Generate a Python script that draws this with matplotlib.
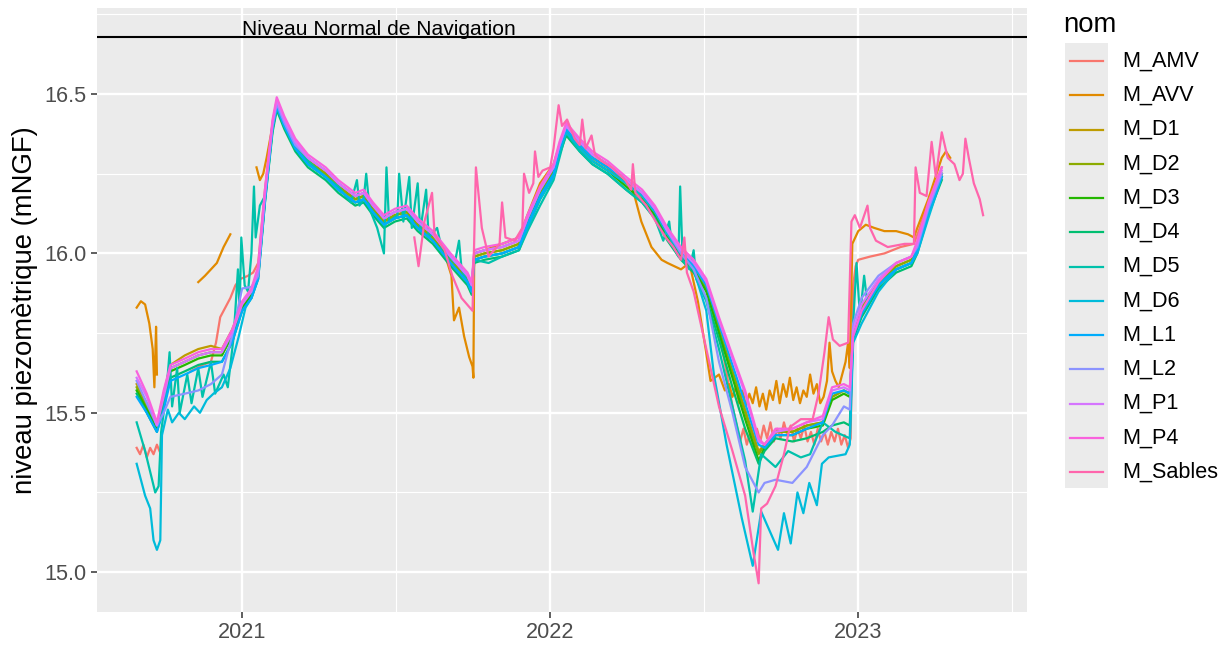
import matplotlib
matplotlib.use("Agg")
import matplotlib.pyplot as plt
import matplotlib.dates as mdates
from matplotlib.lines import Line2D
from matplotlib.patches import Rectangle
import numpy as np
import pandas as pd

plt.rcParams['font.family'] = ['Liberation Sans', 'DejaVu Sans']

# ---------------- data ----------------
names = ["M_AMV", "M_AVV", "M_D1", "M_D2", "M_D3", "M_D4", "M_D5", "M_D6",
         "M_L1", "M_L2", "M_P1", "M_P4", "M_Sables"]
colors = ["#F8766D", "#E18A00", "#BE9C00", "#8CAB00", "#24B700", "#00BE70", "#00C1AB",
          "#00BBDA", "#00ACFC", "#8B93FF", "#D575FE", "#F962DD", "#FF65AC"]

grid_dates = [
    "2020-08-29", "2020-09-10", "2020-09-22", "2020-09-30", "2020-10-08", "2020-10-25", "2020-11-10", "2020-11-25", "2020-12-08", "2020-12-20",
    "2021-01-01", "2021-01-12", "2021-01-20", "2021-01-28", "2021-02-06", "2021-02-11", "2021-02-20", "2021-03-05", "2021-03-20", "2021-04-10",
    "2021-04-25", "2021-05-15", "2021-05-25", "2021-06-05", "2021-06-18", "2021-07-01", "2021-07-15", "2021-07-28", "2021-08-15", "2021-09-05",
    "2021-09-25", "2021-09-30", "2021-10-03", "2021-10-15", "2021-11-05", "2021-11-25", "2021-12-05", "2021-12-20", "2022-01-05", "2022-01-12",
    "2022-01-20", "2022-02-05", "2022-02-20", "2022-03-10", "2022-04-01", "2022-04-20", "2022-05-05", "2022-05-20", "2022-06-05", "2022-06-20",
    "2022-07-05", "2022-07-20", "2022-08-05", "2022-08-20", "2022-09-05", "2022-09-12", "2022-09-25", "2022-10-15", "2022-11-01", "2022-11-20",
    "2022-12-01", "2022-12-15", "2022-12-22", "2022-12-26", "2023-01-05", "2023-01-25", "2023-02-15", "2023-03-05", "2023-03-12", "2023-03-25",
    "2023-04-10"]

p4_vals = [
    15.63, 15.56, 15.47, 15.57, 15.65, 15.67, 15.69, 15.70, 15.70, 15.76,
    15.85, 15.89, 15.96, 16.20, 16.42, 16.49, 16.43, 16.36, 16.31, 16.27,
    16.23, 16.19, 16.20, 16.16, 16.12, 16.14, 16.15, 16.11, 16.07, 16.00,
    15.94, 15.91, 16.01, 16.02, 16.03, 16.05, 16.12, 16.21, 16.28, 16.35,
    16.41, 16.36, 16.32, 16.29, 16.24, 16.20, 16.15, 16.08, 16.02, 15.98,
    15.92, 15.80, 15.68, 15.57, 15.42, 15.40, 15.45, 15.45, 15.47, 15.49,
    15.58, 15.59, 15.58, 15.74, 15.82, 15.91, 15.97, 15.99, 16.04, 16.16,
    16.27]
p1_vals = [
    15.61, 15.55, 15.46, 15.55, 15.64, 15.66, 15.68, 15.69, 15.69, 15.75,
    15.84, 15.88, 15.95, 16.19, 16.41, 16.48, 16.42, 16.35, 16.30, 16.26,
    16.22, 16.18, 16.19, 16.15, 16.11, 16.13, 16.14, 16.10, 16.06, 15.99,
    15.93, 15.90, 16.00, 16.01, 16.02, 16.04, 16.11, 16.20, 16.27, 16.34,
    16.40, 16.35, 16.31, 16.28, 16.23, 16.19, 16.14, 16.07, 16.01, 15.97,
    15.91, 15.79, 15.67, 15.56, 15.41, 15.40, 15.44, 15.45, 15.47, 15.48,
    15.57, 15.58, 15.57, 15.76, 15.84, 15.92, 15.97, 15.99, 16.03, 16.15,
    16.26]
d1_vals = [
    15.59, 15.53, 15.46, 15.56, 15.65, 15.68, 15.70, 15.71, 15.70, 15.76,
    15.84, 15.88, 15.94, 16.18, 16.40, 16.47, 16.41, 16.34, 16.29, 16.25,
    16.21, 16.17, 16.18, 16.14, 16.10, 16.12, 16.13, 16.09, 16.05, 15.98,
    15.92, 15.89, 15.99, 16.00, 16.01, 16.03, 16.10, 16.19, 16.26, 16.33,
    16.39, 16.34, 16.30, 16.27, 16.22, 16.18, 16.13, 16.06, 16.00, 15.96,
    15.89, 15.76, 15.63, 15.51, 15.38, 15.40, 15.44, 15.44, 15.46, 15.47,
    15.55, 15.57, 15.56, 15.75, 15.83, 15.91, 15.96, 15.98, 16.02, 16.14,
    16.25]
d2_vals = [
    15.58, 15.52, 15.45, 15.55, 15.64, 15.66, 15.68, 15.69, 15.69, 15.75,
    15.83, 15.87, 15.93, 16.17, 16.40, 16.47, 16.41, 16.34, 16.29, 16.25,
    16.21, 16.17, 16.18, 16.14, 16.10, 16.12, 16.13, 16.09, 16.05, 15.98,
    15.92, 15.89, 15.99, 16.00, 16.01, 16.03, 16.10, 16.19, 16.26, 16.33,
    16.39, 16.34, 16.30, 16.27, 16.22, 16.18, 16.13, 16.06, 16.00, 15.96,
    15.89, 15.76, 15.63, 15.50, 15.37, 15.40, 15.44, 15.44, 15.46, 15.47,
    15.55, 15.57, 15.56, 15.75, 15.83, 15.91, 15.96, 15.98, 16.02, 16.14,
    16.25]
d3_vals = [
    15.57, 15.51, 15.45, 15.54, 15.63, 15.65, 15.67, 15.68, 15.68, 15.74,
    15.83, 15.87, 15.93, 16.17, 16.39, 16.46, 16.40, 16.33, 16.28, 16.24,
    16.20, 16.16, 16.17, 16.13, 16.09, 16.11, 16.12, 16.08, 16.04, 15.97,
    15.91, 15.88, 15.98, 15.99, 16.00, 16.02, 16.09, 16.18, 16.25, 16.32,
    16.38, 16.33, 16.29, 16.26, 16.21, 16.17, 16.12, 16.05, 15.99, 15.95,
    15.88, 15.75, 15.61, 15.48, 15.35, 15.39, 15.43, 15.43, 15.45, 15.46,
    15.54, 15.56, 15.55, 15.74, 15.82, 15.90, 15.95, 15.97, 16.01, 16.13,
    16.24]
d4_vals = [
    15.56, 15.50, 15.44, 15.52, 15.61, 15.63, 15.65, 15.66, 15.66, 15.72,
    15.82, 15.86, 15.92, 16.16, 16.38, 16.45, 16.39, 16.32, 16.27, 16.23,
    16.19, 16.15, 16.16, 16.12, 16.08, 16.10, 16.11, 16.07, 16.03, 15.96,
    15.90, 15.87, 15.97, 15.98, 15.99, 16.01, 16.08, 16.17, 16.24, 16.31,
    16.37, 16.32, 16.28, 16.25, 16.20, 16.16, 16.11, 16.04, 15.98, 15.94,
    15.86, 15.73, 15.58, 15.45, 15.34, 15.38, 15.42, 15.41, 15.42, 15.44,
    15.46, 15.47, 15.46, 15.73, 15.80, 15.89, 15.94, 15.96, 16.00, 16.12,
    16.23]
l1_vals = [
    15.55, 15.50, 15.44, 15.51, 15.60, 15.62, 15.64, 15.65, 15.66, 15.72,
    15.82, 15.86, 15.92, 16.16, 16.39, 16.46, 16.40, 16.33, 16.28, 16.24,
    16.20, 16.16, 16.17, 16.13, 16.09, 16.11, 16.12, 16.08, 16.04, 15.97,
    15.91, 15.88, 15.98, 15.99, 16.00, 16.02, 16.09, 16.18, 16.25, 16.33,
    16.39, 16.34, 16.30, 16.27, 16.23, 16.19, 16.14, 16.07, 16.01, 15.96,
    15.90, 15.78, 15.65, 15.53, 15.40, 15.39, 15.43, 15.43, 15.45, 15.47,
    15.56, 15.57, 15.56, 15.74, 15.81, 15.90, 15.95, 15.97, 16.01, 16.13,
    16.24]
l2_vals = [
    15.60, 15.53, 15.46, 15.50, 15.55, 15.56, 15.57, 15.59, 15.62, 15.74,
    15.89, 15.895, 15.93, 16.18, 16.40, 16.47, 16.41, 16.34, 16.30, 16.26,
    16.22, 16.18, 16.19, 16.15, 16.11, 16.13, 16.14, 16.10, 16.06, 15.99,
    15.93, 15.90, 16.00, 16.01, 16.02, 16.04, 16.11, 16.20, 16.27, 16.34,
    16.40, 16.35, 16.31, 16.28, 16.23, 16.19, 16.14, 16.07, 16.00, 15.95,
    15.86, 15.66, 15.50, 15.33, 15.25, 15.28, 15.29, 15.28, 15.33, 15.43,
    15.46, 15.52, 15.51, 15.78, 15.86, 15.93, 15.97, 15.99, 16.02, 16.14,
    16.25]

d5_dates = [
    "2020-08-29", "2020-09-08", "2020-09-20", "2020-09-24", "2020-09-27", "2020-10-03", "2020-10-07", "2020-10-10", "2020-10-16", "2020-10-19",
    "2020-10-28", "2020-11-02", "2020-11-10", "2020-11-15", "2020-11-25", "2020-11-30", "2020-12-10", "2020-12-15", "2020-12-22", "2020-12-27",
    "2020-12-29", "2020-12-31", "2021-01-04", "2021-01-08", "2021-01-12", "2021-01-15", "2021-01-17", "2021-01-22", "2021-01-28", "2021-02-06",
    "2021-02-11", "2021-02-20", "2021-03-05", "2021-03-20", "2021-04-10", "2021-04-25", "2021-05-10", "2021-05-17", "2021-05-20", "2021-05-25",
    "2021-05-28", "2021-06-01", "2021-06-10", "2021-06-18", "2021-06-21", "2021-06-24", "2021-06-29", "2021-07-04", "2021-07-06", "2021-07-11",
    "2021-07-18", "2021-07-21", "2021-07-28", "2021-07-31", "2021-08-07", "2021-08-10", "2021-08-20", "2021-08-25", "2021-09-10", "2021-09-15",
    "2021-09-18", "2021-09-30", "2021-10-03", "2021-10-20", "2021-11-05", "2021-11-25", "2021-12-05", "2021-12-20", "2022-01-05", "2022-01-20",
    "2022-02-05", "2022-02-20", "2022-03-10", "2022-04-01", "2022-04-20", "2022-05-05", "2022-05-15", "2022-05-22", "2022-05-25", "2022-06-02",
    "2022-06-04", "2022-06-07", "2022-06-15", "2022-06-20", "2022-06-23", "2022-07-05", "2022-07-20", "2022-08-05", "2022-08-20", "2022-08-29",
    "2022-09-08", "2022-09-25", "2022-10-10", "2022-10-25", "2022-11-05", "2022-11-20", "2022-12-05", "2022-12-22", "2022-12-26", "2022-12-30",
    "2023-01-03", "2023-01-08", "2023-01-12", "2023-01-20", "2023-02-01", "2023-02-15", "2023-03-05", "2023-03-12", "2023-03-25", "2023-04-10"]
d5_vals = [
    15.47, 15.38, 15.25, 15.27, 15.44, 15.56, 15.69, 15.52, 15.64, 15.50,
    15.62, 15.53, 15.64, 15.55, 15.66, 15.56, 15.62, 15.58, 15.74, 15.95,
    15.82, 16.05, 15.90, 15.88, 16.00, 16.21, 16.05, 16.15, 16.18, 16.40,
    16.46, 16.40, 16.33, 16.29, 16.24, 16.21, 16.16, 16.23, 16.15, 16.17,
    16.25, 16.14, 16.08, 16.00, 16.27, 16.10, 16.11, 16.12, 16.25, 16.10,
    16.24, 16.08, 16.22, 16.07, 16.20, 16.05, 16.08, 16.02, 15.97, 16.04,
    15.95, 15.88, 15.98, 15.97, 15.99, 16.01, 16.07, 16.15, 16.23, 16.38,
    16.32, 16.28, 16.25, 16.20, 16.16, 16.11, 16.04, 16.10, 16.03, 15.99,
    16.21, 15.98, 15.95, 16.01, 15.92, 15.85, 15.70, 15.52, 15.35, 15.19,
    15.37, 15.33, 15.38, 15.36, 15.37, 15.47, 15.44, 15.42, 15.78, 15.97,
    15.80, 15.93, 15.84, 15.88, 15.92, 15.95, 15.97, 16.01, 16.12, 16.25]

d6_dates = [
    "2020-08-29", "2020-09-08", "2020-09-14", "2020-09-18", "2020-09-22", "2020-09-26", "2020-09-28", "2020-10-05", "2020-10-10", "2020-10-18",
    "2020-10-25", "2020-11-05", "2020-11-12", "2020-11-20", "2020-11-28", "2020-12-08", "2020-12-18", "2020-12-28", "2021-01-05", "2021-01-12",
    "2021-01-20", "2021-01-28", "2021-02-06", "2021-02-11", "2021-02-20", "2021-03-05", "2021-03-20", "2021-04-10", "2021-04-25", "2021-05-15",
    "2021-05-25", "2021-06-05", "2021-06-18", "2021-07-01", "2021-07-15", "2021-07-28", "2021-08-15", "2021-09-05", "2021-09-25", "2021-09-30",
    "2021-10-03", "2021-10-15", "2021-11-05", "2021-11-25", "2021-12-05", "2021-12-20", "2022-01-05", "2022-01-12", "2022-01-20", "2022-02-05",
    "2022-02-20", "2022-03-10", "2022-04-01", "2022-04-20", "2022-05-05", "2022-05-20", "2022-06-05", "2022-06-20", "2022-07-05", "2022-07-14",
    "2022-07-29", "2022-08-16", "2022-08-29", "2022-09-08", "2022-09-28", "2022-10-05", "2022-10-13", "2022-10-21", "2022-10-28", "2022-11-04",
    "2022-11-13", "2022-11-19", "2022-11-27", "2022-12-17", "2022-12-22", "2022-12-26", "2023-01-05", "2023-01-25", "2023-02-15", "2023-03-05",
    "2023-03-12", "2023-03-25", "2023-04-10"]
d6_vals = [
    15.34, 15.24, 15.20, 15.10, 15.07, 15.10, 15.43, 15.51, 15.47, 15.50,
    15.48, 15.52, 15.50, 15.54, 15.56, 15.58, 15.64, 15.74, 15.83, 15.86,
    15.93, 16.18, 16.40, 16.47, 16.40, 16.33, 16.28, 16.24, 16.20, 16.16,
    16.17, 16.13, 16.09, 16.11, 16.12, 16.08, 16.04, 15.97, 15.91, 15.88,
    15.98, 15.99, 16.00, 16.02, 16.08, 16.17, 16.24, 16.32, 16.38, 16.33,
    16.29, 16.26, 16.22, 16.18, 16.13, 16.06, 16.00, 15.95, 15.82, 15.62,
    15.40, 15.17, 15.02, 15.19, 15.07, 15.185, 15.09, 15.25, 15.185, 15.28,
    15.21, 15.34, 15.36, 15.37, 15.40, 15.72, 15.78, 15.88, 15.95, 15.97,
    16.00, 16.11, 16.24]

sables_dates = [
    "2021-07-24", "2021-07-29", "2021-08-05", "2021-08-14", "2021-08-17", "2021-08-29", "2021-09-07", "2021-09-18", "2021-10-01", "2021-10-05",
    "2021-10-12", "2021-10-20", "2021-11-02", "2021-11-05", "2021-11-09", "2021-11-20", "2021-11-29", "2021-12-01", "2021-12-07", "2021-12-12",
    "2021-12-14", "2021-12-18", "2021-12-23", "2022-01-01", "2022-01-05", "2022-01-11", "2022-01-15", "2022-01-21", "2022-01-30", "2022-02-05",
    "2022-02-08", "2022-02-12", "2022-02-19", "2022-02-23", "2022-03-03", "2022-03-15", "2022-03-31", "2022-04-07", "2022-04-09", "2022-04-12",
    "2022-04-25", "2022-05-06", "2022-05-18", "2022-05-27", "2022-06-05", "2022-06-09", "2022-06-12", "2022-06-20", "2022-07-05", "2022-07-20",
    "2022-08-05", "2022-08-20", "2022-08-30", "2022-09-05", "2022-09-08", "2022-09-15", "2022-09-25", "2022-10-05", "2022-10-12", "2022-10-25",
    "2022-11-08", "2022-11-15", "2022-11-22", "2022-11-27", "2022-12-02", "2022-12-10", "2022-12-20", "2022-12-24", "2022-12-28", "2023-01-03",
    "2023-01-12", "2023-01-15", "2023-01-22", "2023-02-05", "2023-02-25", "2023-03-08", "2023-03-10", "2023-03-15", "2023-03-23", "2023-03-29",
    "2023-04-03", "2023-04-10", "2023-04-17", "2023-04-25", "2023-05-01", "2023-05-05", "2023-05-08", "2023-05-12", "2023-05-18", "2023-05-25",
    "2023-05-29"]
sables_vals = [
    16.05, 15.96, 16.10, 16.19, 16.06, 16.01, 15.93, 15.86, 15.82, 16.27,
    16.08, 15.99, 16.03, 16.16, 16.05, 16.04, 16.08, 16.25, 16.19, 16.22,
    16.32, 16.24, 16.26, 16.27, 16.33, 16.465, 16.40, 16.42, 16.36, 16.34,
    16.42, 16.33, 16.37, 16.31, 16.29, 16.27, 16.23, 16.20, 16.28, 16.19,
    16.15, 16.10, 16.05, 16.02, 15.98, 16.05, 15.94, 15.88, 15.70, 15.52,
    15.38, 15.24, 15.06, 14.965, 15.20, 15.215, 15.27, 15.37, 15.455, 15.48,
    15.48, 15.56, 15.69, 15.80, 15.73, 15.71, 15.72, 16.10, 16.12, 16.08,
    16.15, 16.08, 16.04, 16.02, 16.03, 16.03, 16.27, 16.19, 16.18, 16.35,
    16.24, 16.38, 16.30, 16.28, 16.23, 16.25, 16.36, 16.30, 16.22, 16.17,
    16.12]

avv_dates = [
    "2020-08-29", "2020-09-03", "2020-09-08", "2020-09-13", "2020-09-17", "2020-09-19", "2020-09-21", "2020-09-22", "2020-10-01", "2020-11-10",
    "2020-11-18", "2020-11-25", "2020-12-02", "2020-12-10", "2020-12-18", "2021-01-01", "2021-01-18", "2021-01-22", "2021-01-26", "2021-01-30",
    "2021-02-06", "2021-02-11", "2021-02-20", "2021-03-05", "2021-03-20", "2021-04-10", "2021-04-25", "2021-05-15", "2021-05-25", "2021-06-05",
    "2021-06-18", "2021-07-01", "2021-07-15", "2021-07-28", "2021-08-15", "2021-08-30", "2021-09-06", "2021-09-09", "2021-09-15", "2021-09-21",
    "2021-09-27", "2021-10-01", "2021-10-02", "2021-10-03", "2021-10-15", "2021-11-05", "2021-11-25", "2021-12-05", "2021-12-20", "2022-01-05",
    "2022-01-12", "2022-01-20", "2022-02-05", "2022-02-20", "2022-03-10", "2022-04-01", "2022-04-11", "2022-04-19", "2022-05-01", "2022-05-13",
    "2022-05-20", "2022-06-05", "2022-06-15", "2022-06-25", "2022-07-03", "2022-07-10", "2022-07-20", "2022-07-27", "2022-08-01", "2022-08-05",
    "2022-08-09", "2022-08-13", "2022-08-17", "2022-08-21", "2022-08-25", "2022-08-29", "2022-09-02", "2022-09-06", "2022-09-10", "2022-09-14",
    "2022-09-18", "2022-09-22", "2022-09-26", "2022-09-30", "2022-10-04", "2022-10-08", "2022-10-12", "2022-10-16", "2022-10-20", "2022-10-24",
    "2022-10-28", "2022-11-01", "2022-11-05", "2022-11-09", "2022-11-13", "2022-11-17", "2022-11-21", "2022-11-25", "2022-11-28", "2022-12-01",
    "2022-12-05", "2022-12-09", "2022-12-13", "2022-12-17", "2022-12-20", "2022-12-22", "2022-12-25", "2023-01-01", "2023-01-10", "2023-01-20",
    "2023-02-01", "2023-02-15", "2023-03-01", "2023-03-08", "2023-03-12", "2023-03-25", "2023-04-10", "2023-04-15", "2023-04-20"]
avv_vals = [
    15.83, 15.85, 15.84, 15.78, 15.70, 15.58, 15.77, 15.62, None, 15.91,
    15.93, 15.95, 15.97, 16.02, 16.06, None, 16.27, 16.23, 16.25, 16.30,
    16.40, 16.46, 16.41, 16.34, 16.29, 16.25, 16.21, 16.17, 16.18, 16.14,
    16.10, 16.12, 16.13, 16.09, 16.05, 15.99, 15.93, 15.79, 15.83, 15.74,
    15.675, 15.645, 15.61, 16.00, 16.01, 16.03, 16.05, 16.12, 16.22, 16.28,
    16.34, 16.40, 16.35, 16.31, 16.28, 16.23, 16.18, 16.10, 16.02, 15.98,
    15.97, 15.95, 15.97, 15.85, 15.72, 15.60, 15.62, 15.57, 15.59, 15.55,
    15.58, 15.53, 15.57, 15.52, 15.56, 15.53, 15.58, 15.52, 15.56, 15.51,
    15.57, 15.54, 15.60, 15.53, 15.59, 15.55, 15.61, 15.54, 15.58, 15.53,
    15.57, 15.55, 15.62, 15.56, 15.59, 15.53, 15.55, 15.60, 15.72, 15.63,
    15.60, 15.58, 15.62, 15.66, 15.72, 15.64, 16.03, 16.07, 16.09, 16.08,
    16.07, 16.07, 16.06, 16.05, 16.08, 16.17, 16.30, 16.32, 16.30]

amv_dates = [
    "2020-08-29", "2020-09-02", "2020-09-06", "2020-09-10", "2020-09-14", "2020-09-18", "2020-09-22", "2020-09-25", "2020-10-10", "2020-11-01",
    "2020-11-15", "2020-11-25", "2020-12-01", "2020-12-06", "2020-12-12", "2020-12-18", "2020-12-24", "2020-12-30", "2021-01-08", "2021-01-14",
    "2021-01-20", "2021-01-28", "2021-02-06", "2021-02-11", "2021-02-20", "2021-03-05", "2021-03-20", "2021-04-10", "2021-04-25", "2021-05-15",
    "2021-05-25", "2021-06-05", "2021-06-18", "2021-07-01", "2021-07-15", "2021-07-28", "2021-08-15", "2021-09-05", "2021-09-25", "2021-09-30",
    "2021-10-03", "2021-10-15", "2021-11-05", "2021-11-25", "2021-12-05", "2021-12-20", "2022-01-05", "2022-01-12", "2022-01-20", "2022-02-05",
    "2022-02-20", "2022-03-10", "2022-04-01", "2022-04-20", "2022-05-05", "2022-05-20", "2022-06-05", "2022-06-20", "2022-07-05", "2022-07-20",
    "2022-08-01", "2022-08-05", "2022-08-10", "2022-08-14", "2022-08-18", "2022-08-22", "2022-08-26", "2022-08-30", "2022-09-03", "2022-09-07",
    "2022-09-11", "2022-09-15", "2022-09-19", "2022-09-23", "2022-09-27", "2022-10-01", "2022-10-05", "2022-10-09", "2022-10-13", "2022-10-17",
    "2022-10-21", "2022-10-25", "2022-10-29", "2022-11-02", "2022-11-06", "2022-11-10", "2022-11-14", "2022-11-18", "2022-11-22", "2022-11-26",
    "2022-11-30", "2022-12-04", "2022-12-08", "2022-12-12", "2022-12-16", "2022-12-20", "2022-12-23", "2022-12-26", "2022-12-29", "2023-01-01",
    "2023-01-15", "2023-02-01", "2023-02-20", "2023-03-08", "2023-03-15", "2023-03-25", "2023-04-10"]
amv_vals = [
    15.39, 15.37, 15.40, 15.36, 15.39, 15.37, 15.40, 15.38, None, 15.63,
    15.65, 15.66, 15.72, 15.80, 15.83, 15.86, 15.90, 15.92, 15.93, 15.94,
    15.97, 16.20, 16.41, 16.48, 16.42, 16.35, 16.30, 16.26, 16.22, 16.18,
    16.19, 16.15, 16.11, 16.13, 16.14, 16.10, 16.06, 15.99, 15.93, 15.90,
    16.00, 16.01, 16.02, 16.04, 16.11, 16.20, 16.27, 16.34, 16.40, 16.35,
    16.31, 16.28, 16.23, 16.19, 16.14, 16.07, 16.01, 15.97, 15.90, 15.76,
    15.58, 15.52, 15.46, 15.41, 15.45, 15.40, 15.44, 15.39, 15.45, 15.41,
    15.46, 15.42, 15.47, 15.41, 15.45, 15.42, 15.47, 15.43, 15.46, 15.41,
    15.45, 15.42, 15.46, 15.41, 15.44, 15.40, 15.45, 15.41, 15.44, 15.40,
    15.44, 15.41, 15.45, 15.40, 15.43, 15.39, 15.42, 15.90, 15.96, 15.98,
    15.99, 16.00, 16.02, 16.03, 16.08, 16.16, 16.27]

nnn_level = 16.68
nnn_label = "Niveau Normal de Navigation"
y_label = "niveau piezomètrique (mNGF)"
legend_title = "nom"

series = {
    "M_AMV": (amv_dates, amv_vals),
    "M_AVV": (avv_dates, avv_vals),
    "M_D1": (grid_dates, d1_vals),
    "M_D2": (grid_dates, d2_vals),
    "M_D3": (grid_dates, d3_vals),
    "M_D4": (grid_dates, d4_vals),
    "M_D5": (d5_dates, d5_vals),
    "M_D6": (d6_dates, d6_vals),
    "M_L1": (grid_dates, l1_vals),
    "M_L2": (grid_dates, l2_vals),
    "M_P1": (grid_dates, p1_vals),
    "M_P4": (grid_dates, p4_vals),
    "M_Sables": (sables_dates, sables_vals),
}

# ---------------- figure ----------------
W, H = 1225, 648
fig = plt.figure(figsize=(W / 100, H / 100), dpi=100)
fig.patch.set_facecolor("white")
ax = fig.add_axes([97 / W, 1 - 612 / H, (1027 - 97) / W, (612 - 8) / H])
ax.set_facecolor("#EBEBEB")
for s in ax.spines.values():
    s.set_visible(False)

LW = 1.6
for name, col in zip(names, colors):
    d, v = series[name]
    ax.plot(pd.to_datetime(d), np.array(v, dtype=float), color=col, lw=LW,
            solid_joinstyle="round", zorder=3)

ax.axhline(nnn_level, color="black", lw=1.5, zorder=4)
ax.text(pd.Timestamp("2021-06-12"), nnn_level + 0.004, nnn_label, ha="center",
        va="baseline", fontsize=15.1, color="black", zorder=5)

ax.set_xlim(pd.Timestamp("2020-07-13"), pd.Timestamp("2023-07-20"))
ax.set_ylim(14.875, 16.77)

ax.xaxis.set_major_locator(mdates.YearLocator())
ax.xaxis.set_major_formatter(mdates.DateFormatter("%Y"))
ax.xaxis.set_minor_locator(mdates.MonthLocator(bymonth=7, bymonthday=2))
ax.set_yticks([15.0, 15.5, 16.0, 16.5])
ax.set_yticklabels(["15.0", "15.5", "16.0", "16.5"])
ax.set_yticks([15.25, 15.75, 16.25, 16.75], minor=True)

ax.grid(which="major", color="white", lw=1.7, zorder=0)
ax.grid(which="minor", color="white", lw=0.85, zorder=0)
ax.set_axisbelow(True)
ax.tick_params(which="major", length=4.5, width=1.1, color="#333333",
               labelcolor="#4D4D4D", labelsize=15.6, pad=3)
ax.tick_params(which="minor", length=0)

fig.text(25 / W, 1 - 310 / H, y_label, rotation=90, ha="center", va="center",
         fontsize=19.8, color="black")

# ---------------- legend ----------------
def fx(px):
    return px / W

def fy(py):
    return 1 - py / H

fig.text(fx(1063), fy(32), legend_title, ha="left", va="baseline", fontsize=19.8)
fig.add_artist(Rectangle((fx(1065), fy(488)), fx(1108) - fx(1065), fy(43) - fy(488),
                         transform=fig.transFigure, facecolor="#EBEBEB", edgecolor="none"))
for i, (name, col) in enumerate(zip(names, colors)):
    yc = 61 + 34.25 * i
    fig.add_artist(Line2D([fx(1070), fx(1103)], [fy(yc), fy(yc)], color=col, lw=LW,
                          transform=fig.transFigure))
    fig.text(fx(1122), fy(yc), name, ha="left", va="center", fontsize=15.6, color="black")

fig.savefig("out.png", dpi=100)
